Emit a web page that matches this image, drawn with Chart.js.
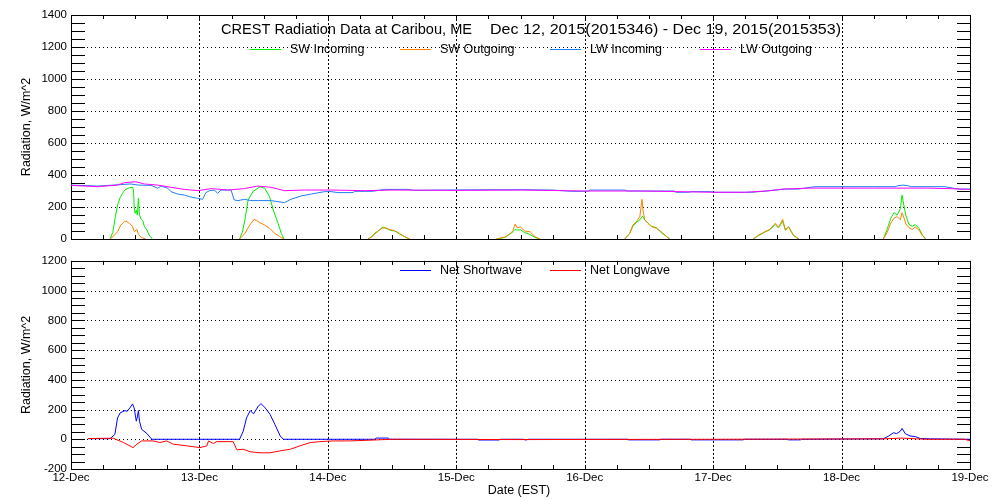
<!DOCTYPE html>
<html>
<head>
<meta charset="utf-8">
<script src="https://cdn.jsdelivr.net/npm/chart.js@4/dist/chart.umd.min.js"></script>
<style>
  html,body{margin:0;padding:0;background:#fff;}
  #wrap{position:relative;width:1000px;height:500px;}
  canvas{position:absolute;left:0;}
</style>
</head>
<body>
<div id="wrap">
  <canvas id="top" width="1000" height="250" style="top:0"></canvas>
  <canvas id="bot" width="1000" height="250" style="top:250px"></canvas>
</div>
<script>
// ---- Data (x = hours since 12-Dec-2015 00:00 EST; null = break between days) ----
const dayLabels = ['12-Dec','13-Dec','14-Dec','15-Dec','16-Dec','17-Dec','18-Dec','19-Dec'];
const titleLeft = 'CREST Radiation Data at Caribou, ME';
const titleRight = 'Dec 12, 2015(2015346) - Dec 19, 2015(2015353)';

const swInT = [7.3,7.8,8.3,8.7,9.2,9.7,10.2,10.9,11.5,11.7,11.8,12.0,12.2,12.4,12.6,12.8,13.1,13.4,13.7,14.2,14.6,15.2, 20,
  31.5,32.0,32.5,33.1,34.0,35.3,36.2,37.1,37.8,38.7,39.3,39.8, 45,
  55.5,56.2,56.7,57.4,57.7,58.3,58.9,59.5,60.5,61.4,62.3,63.3, 70,
  79.5,81.1,82.0,82.6,83.0,83.4,84.0,84.8,85.8,86.7,87.6, 95,
  103.5,104.4,105.0,105.7,106.3,106.7,106.9,107.2,107.8,108.5,109.4,110.3,111.3,111.9, 120,
  127.5,128.5,129.7,130.6,131.6,132.2,133.0,133.5,134.1,135.0,136.0, 144,
  151.8,152.5,153.2,153.8,154.4,155.0,155.3,155.7,156.0,156.6,157.2,157.8,158.5,159.1,159.7];
const swInV = [0,40,140,212,260,290,310,320,323,300,200,160,180,150,255,150,125,115,80,55,25,0, null,
  0,40,119,244,296,327,317,265,181,98,35,0, null,
  0,15,35,50,60,75,67,56,50,31,15,0, null,
  0,10,30,45,60,55,58,40,28,10,0, null,
  0,35,80,105,119,140,140,119,98,80,70,40,15,0, null,
  0,22,44,58,90,70,110,55,75,22,0, null,
  0,60,130,165,150,190,275,200,150,90,80,90,65,25,0];

const swOutT = [7.3,8.0,8.7,9.3,10.0,10.3,10.9,11.5,11.8,12.3,12.6,13.1,14.0, 20,
  31.5,32.5,33.4,34.2,34.7,35.3,36.2,37.1,38.1,39.0,39.8, 45,
  55.5,56.2,56.7,57.4,57.7,58.3,58.9,59.5,60.5,61.4,62.3,63.3, 70,
  79.5,81.1,82.0,82.6,83.0,83.4,84.0,84.8,85.8,86.7,87.6, 95,
  103.5,104.4,105.0,105.7,106.3,106.7,106.9,107.2,107.8,108.5,109.4,110.3,111.3,111.9, 120,
  127.5,128.5,129.7,130.6,131.6,132.2,133.0,133.5,134.1,135.0,136.0, 144,
  151.8,152.5,153.2,153.8,154.4,155.0,155.3,155.7,156.0,156.6,157.2,157.8,158.5,159.1,159.7];
const swOutV = [0,20,46,87,108,112,98,80,46,60,31,10,0, null,
  0,35,87,123,115,102,87,67,35,15,0, null,
  0,12,30,48,58,70,68,60,52,35,15,0, null,
  0,12,32,52,94,70,75,50,45,15,0, null,
  0,35,87,110,140,248,181,120,100,77,67,45,15,0, null,
  0,25,46,60,98,73,123,56,77,25,0, null,
  0,40,100,130,140,120,165,130,95,70,60,75,55,20,0];

const lwInT = [0,5,9.3,11.2,12.5,15,16.2,16.8,18.1,18.7,19.9,21.2,22.1,23.7,24.6,25.2,25.9,26.8,27.4,28,29.9,30.5,31.2,32.4,33.6,37.4,39.9,41.1,43,44.9,47.4,48.6,
  49.9,52.7,53,56.4,58.6,63,64,69.2,78,85.4,90,93.5,96.6,97,103.5,104,112.8,113,115.3,116,119.7,120,127.2,130,133.4,135.9,139,154,154.5,155.5,156.4,157,163.3,165.8,168];
const lwInV = [337,331,340,344,337,335,317,331,317,296,281,275,265,254,248,290,302,306,285,306,306,244,240,248,240,240,227,248,269,281,296,296,
  290,290,298,298,310,310,304,306,308,308,306,298,298,306,306,300,300,292,292,296,296,292,292,300,312,312,327,327,333,337,333,327,327,312,312];

const lwOutT = [0,5,8.7,10,12.1,13.7,16.2,18.7,21.2,23.7,26.2,29.3,32.4,34.9,37.4,39.9,43.6,48.6,55,60,72,84,96,106,110,120,126,130,133,138,150,160,165,168];
const lwOutV = [335,327,337,352,358,344,337,323,310,302,315,306,315,331,323,302,306,306,302,306,304,306,300,300,298,292,292,300,312,318,318,318,314,310];

const netSwT = [3.2,7.3,8.2,8.7,9.2,10.1,10.5,11.0,11.5,11.8,12.2,12.4,12.6,12.8,13.2,14.2,15.1,
  31.5,32.2,32.8,33.5,34.1,35.0,35.5,36.3,37.2,38.1,39.1,39.7,
  56.8,57.0,59.3,59.5,76.0,76.2,80.0,80.2,84.5,85.0,85.5,
  104.0,104.2,110.0,110.2,115.7,115.9,125.6,125.8,133.8,134.0,136.3,136.5,
  151.8,152.8,153.7,154.3,155.0,155.3,155.9,156.8,157.8,158.7,160.6,168];
const netSwV = [4,4,33,144,178,193,188,211,238,211,122,150,193,122,67,38,0,
  0,56,144,193,171,222,240,211,167,100,22,0,
  0,8,8,0,0,-5,-5,0,0,-5,0,
  0,-4,-4,0,0,-4,-4,0,0,-4,-4,0,
  3,22,44,38,55,73,38,22,18,5,3,0];

const netLwT = [3.2,7.9,9.8,11.6,12.3,13.2,15.4,16.6,17.9,19.1,21.6,24.1,25.4,25.7,26.6,27.2,30.3,31,32.2,33.5,35.3,37.2,39.1,41,42.8,44.7,46.5,49,52.1,55.3,60,84,120,152,155.3,158,160,167,168];
const netLwV = [5,7,-22,-56,-33,-11,-11,-22,-11,-33,-44,-56,-44,-11,-29,-16,-16,-71,-67,-84,-91,-91,-78,-67,-44,-22,-16,-11,-11,-7,0,-2,0,3,8,3,0,0,-10];

// ---- helpers ----
const pts = (t, v) => t.map((h, i) => ({x: h, y: v[i]}));
const FONT = '"Liberation Sans", Arial, sans-serif';

const idlAxes = {
  id: 'idlAxes',
  beforeDatasetsDraw(chart) {
    const {ctx, chartArea: ca, scales: {x, y}} = chart;
    const L = ca.left, R = ca.right, T = ca.top, B = ca.bottom;
    const ln = (x1, y1, x2, y2) => { ctx.beginPath(); ctx.moveTo(x1, y1); ctx.lineTo(x2, y2); ctx.stroke(); };
    ctx.save();
    ctx.strokeStyle = '#000';
    ctx.lineWidth = 1;
    ctx.setLineDash([1, 3]);
    for (let v = y.min + 200; v < y.max; v += 200) {
      const py = Math.round(y.getPixelForValue(v)) + 0.5;
      ln(L, py, R, py);
    }
    ctx.setLineDash([2, 2]);
    for (let h = 24; h < x.max; h += 24) {
      const px = Math.round(x.getPixelForValue(h)) + 0.5;
      ln(px, T, px, B);
    }
    ctx.setLineDash([]);
    ctx.strokeRect(Math.round(L) + 0.5, Math.round(T) + 0.5, Math.round(R - L), Math.round(B - T));
    for (let v = y.min; v <= y.max; v += 50) {
      const py = Math.round(y.getPixelForValue(v)) + 0.5;
      ln(L, py, L + 14, py);
      ln(R - 13, py, R, py);
    }
    for (let h = 0; h <= x.max; h += 6) {
      const px = Math.round(x.getPixelForValue(h)) + 0.5;
      ln(px, B, px, B - 4);
      ln(px, T, px, T + 4);
    }
    ctx.restore();
  },
  afterDraw(chart, args, opts) {
    const {ctx, chartArea: ca} = chart;
    ctx.save();
    ctx.fillStyle = '#000';
    ctx.font = '12.5px ' + FONT;
    ctx.textAlign = 'center';
    ctx.textBaseline = 'middle';
    ctx.save();
    ctx.translate(27, (ca.top + ca.bottom) / 2);
    ctx.rotate(-Math.PI / 2);
    ctx.fillText('Radiation, W/m^2', 0, 0);
    ctx.restore();
    if (opts.titleParts) {
      ctx.font = '14.5px ' + FONT;
      ctx.textAlign = 'left';
      opts.titleParts.forEach((p) => {
        const w = ctx.measureText(p.text).width;
        ctx.save();
        ctx.translate(p.x, opts.titleY);
        ctx.scale(p.w / w, 1);
        ctx.fillText(p.text, 0, 0);
        ctx.restore();
      });
    }
    if (opts.xTitle) {
      ctx.font = '12.5px ' + FONT;
      ctx.textAlign = 'center';
      ctx.fillText(opts.xTitle, opts.xTitleX, opts.xTitleY);
    }
    ctx.font = '12.5px ' + FONT;
    ctx.textAlign = 'left';
    chart.data.datasets.forEach((ds, i) => {
      const lx = opts.legendX[i];
      const ly = opts.legendY;
      ctx.strokeStyle = ds.borderColor;
      ctx.lineWidth = 1;
      ctx.beginPath();
      ctx.moveTo(lx, Math.round(ly - 1) + 0.5);
      ctx.lineTo(lx + 31, Math.round(ly - 1) + 0.5);
      ctx.stroke();
      ctx.fillStyle = '#000';
      ctx.fillText(ds.label, lx + 40, ly);
    });
    ctx.restore();
  }
};

function lineDs(label, color, data, order) {
  return {label, data, borderColor: color, backgroundColor: color, borderWidth: 1,
    pointRadius: 0, tension: 0, fill: false, spanGaps: false, order};
}

function xScale(showLabels, h) {
  return {
    type: 'linear', min: 0, max: 168,
    grid: {display: false, drawTicks: false},
    border: {display: false},
    ticks: {
      display: showLabels, stepSize: 24, padding: 2, color: '#000',
      font: {family: FONT, size: 11.5},
      maxRotation: 0, autoSkip: false,
      callback: (v) => dayLabels[Math.round(v / 24)] ?? ''
    },
    afterFit: (s) => { s.height = h; }
  };
}
function yScale(min, max) {
  return {
    min, max,
    grid: {display: false, drawTicks: false},
    border: {display: false},
    ticks: {stepSize: 200, padding: 4, color: '#000', font: {family: FONT, size: 11.5},
      callback: (v) => String(v)},
    afterFit: (s) => { s.width = 71; }
  };
}

Chart.defaults.animation = false;

new Chart(document.getElementById('top'), {
  type: 'line',
  data: {datasets: [
    lineDs('SW Incoming', '#00ee00', pts(swInT, swInV), 4),
    lineDs('SW Outgoing', '#ff7f00', pts(swOutT, swOutV), 3),
    lineDs('LW Incoming', '#1e80f0', pts(lwInT, lwInV), 2),
    lineDs('LW Outgoing', '#ff00ff', pts(lwOutT, lwOutV), 1)
  ]},
  options: {
    responsive: false, devicePixelRatio: 1,
    layout: {padding: {left: 0, right: 30, top: 15, bottom: 0}},
    scales: {x: xScale(false, 11), y: yScale(0, 1400)},
    plugins: {
      legend: {display: false}, tooltip: {enabled: false},
      idlAxes: {
        titleParts: [{text: titleLeft, x: 221, w: 251}, {text: titleRight, x: 490, w: 351}],
        titleY: 30, legendX: [250, 400, 550, 700], legendY: 50
      }
    }
  },
  plugins: [idlAxes]
});

new Chart(document.getElementById('bot'), {
  type: 'line',
  data: {datasets: [
    lineDs('Net Shortwave', '#0000ff', pts(netSwT, netSwV), 2),
    lineDs('Net Longwave', '#ff0000', pts(netLwT, netLwV), 1)
  ]},
  options: {
    responsive: false, devicePixelRatio: 1,
    layout: {padding: {left: 0, right: 30, top: 5, bottom: 0}},
    scales: {x: xScale(true, 31), y: yScale(-200, 1200)},
    plugins: {
      legend: {display: false}, tooltip: {enabled: false},
      idlAxes: {xTitle: 'Date (EST)', xTitleX: 519, xTitleY: 241, legendX: [400, 550], legendY: 21}
    }
  },
  plugins: [idlAxes]
});
</script>
</body>
</html>
